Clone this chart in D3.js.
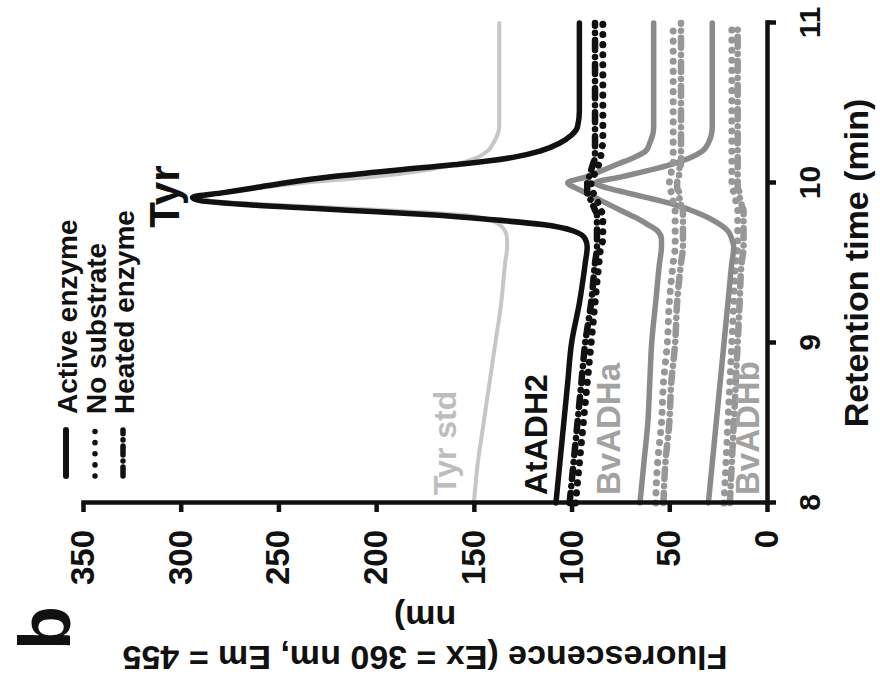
<!DOCTYPE html>
<html>
<head>
<meta charset="utf-8">
<script src="https://cdn.jsdelivr.net/npm/d3@7"></script>
<style>
  html, body { margin: 0; padding: 0; background: #fff; }
  svg { display: block; }
</style>
</head>
<body>
<script>
// Retention time samples (min)
const times = [8.0, 8.25, 8.5, 8.75, 9.0, 9.25, 9.5, 9.6, 9.65, 9.7, 9.74, 9.77, 9.8, 9.83, 9.86, 9.89,
               9.91, 9.94, 9.97, 10.0, 10.04, 10.08, 10.12, 10.16, 10.2, 10.25, 10.3, 10.35, 10.45, 10.6, 10.8, 11.0];

// Fluorescence traces (Ex 360 nm / Em 455 nm)
const tyrStd     = [150, 148, 145, 142, 139, 136, 134, 133, 133, 134, 137, 142, 155, 195, 245, 285,
                    290, 276, 258, 238, 200, 175, 158, 148, 143, 140, 138, 137, 137, 137, 137, 137];
const atActive   = [108, 106, 104, 102, 100, 96, 93, 92, 93, 99, 115, 140, 170, 215, 260, 290,
                    294, 278, 262, 247, 222, 190, 155, 130, 116, 106, 100, 97, 96, 96, 96, 96];
const atNoSub    = [98, 96, 94, 92, 90, 88, 86, 85, 84, 84, 84, 84, 84, 85, 86, 87,
                    88, 89, 90, 90, 89, 87, 86, 85, 85, 84, 84, 84, 84, 84, 84, 84];
const atHeated   = [101, 99, 97, 95, 93, 90, 88, 87, 87, 87, 87, 87, 87, 88, 89, 90,
                    91, 92, 92, 92, 91, 90, 89, 88, 88, 88, 88, 88, 88, 88, 88, 88];
const bvaActive  = [65, 63, 61, 60, 59, 57, 55, 54, 54, 56, 61, 65, 70, 75, 80, 85,
                    88, 93, 98, 102, 92, 84, 76, 68, 62, 60, 58.5, 58, 58, 58, 58, 58];
const bvaNoSub   = [57, 56, 54, 53, 51, 50, 48, 47, 47, 47, 47, 47, 47, 47, 48, 48,
                    49, 49, 50, 50, 49, 49, 48, 48, 48, 48, 48, 48, 48, 48, 48, 48];
const bvaHeated  = [53, 52, 50, 49, 47, 46, 44, 43, 43, 43, 43, 43, 43, 43, 44, 44,
                    45, 45, 46, 46, 45, 45, 44, 44, 44, 44, 44, 44, 44, 44, 44, 44];
const bvbActive  = [30, 28, 26, 24, 22, 20, 18, 17, 18, 20, 24, 28, 33, 39, 46, 55,
                    62, 72, 82, 88, 74, 60, 48, 39, 33, 30, 28.5, 28, 28, 28, 28, 28];
const bvbNoSub   = [22, 21, 20, 19, 18, 17, 16, 15, 15, 15, 15, 15, 15, 15, 16, 16,
                    17, 17, 18, 18, 18, 18, 18, 18, 18, 18, 18, 18, 18, 18, 18, 18];
const bvbHeated  = [19, 18, 17, 16, 15, 14, 13, 12, 12, 12, 12, 12, 12, 12, 13, 13,
                    14, 14, 15, 15, 15, 15, 15, 15, 15, 15, 15, 15, 15, 15, 15, 15];

// Axis ticks and labels
const yTicks = [0, 50, 100, 150, 200, 250, 300, 350];
const xTicks = [8, 9, 10, 11];
const legendLabels = ["Active enzyme", "No substrate", "Heated enzyme"];
const legendStyles = ["solid", "dotted", "dashdot"];
const traceLabels = ["Tyr", "Tyr std", "AtADH2", "BvADHa", "BvADHb"];

const W = 880, H = 682;
const FONT = "'Liberation Sans', Arial, Helvetica, sans-serif";
const BLACK = "#111", GRAY = "#8a8a8a", GRAY_DASH = "#979797", LIGHT = "#c6c6c6";

const styles = {
  solid:   { dash: null,          cap: "round", width: 5.5 },
  dotted:  { dash: "0.1,10",      cap: "round", width: 7 },
  dashdot: { dash: "10,7,0.1,7",  cap: "round", width: 6.5 }
};

const svg = d3.select("body").append("svg")
  .attr("width", W).attr("height", H)
  .style("font-family", FONT);
svg.append("rect").attr("width", W).attr("height", H).attr("fill", "#fff");

// Panel is laid out in a 682 x 880 portrait frame and turned a quarter-turn counter-clockwise
const g = svg.append("g").attr("transform", `translate(0,${H}) rotate(-90)`);

const x = d3.scaleLinear().domain([8, 11]).range([179, 659]);
const y = d3.scaleLinear().domain([0, 350]).range([767, 83]);

const line = d3.line()
  .x((d, i) => x(times[i]))
  .y(d => y(d))
  .curve(d3.curveMonotoneX);

const traces = [
  { values: bvbHeated, color: GRAY_DASH, style: "dashdot" },
  { values: bvbNoSub,  color: GRAY_DASH, style: "dotted" },
  { values: bvbActive, color: GRAY,      style: "solid" },
  { values: bvaHeated, color: GRAY_DASH, style: "dashdot" },
  { values: bvaNoSub,  color: GRAY_DASH, style: "dotted" },
  { values: bvaActive, color: GRAY,      style: "solid" },
  { values: tyrStd,    color: LIGHT,     style: "solid", width: 4 },
  { values: atHeated,  color: BLACK,     style: "dashdot" },
  { values: atNoSub,   color: BLACK,     style: "dotted" },
  { values: atActive,  color: BLACK,     style: "solid" }
];

g.append("g").selectAll("path")
  .data(traces)
  .join("path")
  .attr("d", d => line(d.values))
  .attr("fill", "none")
  .attr("stroke", d => d.color)
  .attr("stroke-width", d => d.width || styles[d.style].width)
  .attr("stroke-linecap", d => styles[d.style].cap)
  .attr("stroke-linejoin", "round")
  .attr("stroke-dasharray", d => styles[d.style].dash);

// Axes
const yAxis = g.append("g")
  .attr("transform", `translate(${x(8)},0)`)
  .call(d3.axisLeft(y).tickValues(yTicks).tickSize(9).tickPadding(18).tickSizeOuter(0));
const xAxis = g.append("g")
  .attr("transform", `translate(0,${y(0)})`)
  .call(d3.axisBottom(x).tickValues(xTicks).tickFormat(d3.format("d")).tickSize(9).tickPadding(23).tickSizeOuter(0));

[yAxis, xAxis].forEach(ax => {
  ax.select(".domain").attr("stroke", BLACK).attr("stroke-width", 4.5).attr("stroke-linecap", "square");
  ax.selectAll(".tick line").attr("stroke", BLACK).attr("stroke-width", 4.5);
  ax.selectAll(".tick text").attr("fill", BLACK).attr("font-family", FONT).attr("font-weight", "bold");
});
yAxis.selectAll(".tick text").attr("font-size", 33);
xAxis.selectAll(".tick text").attr("font-size", 30);

// Axis titles
g.append("text")
  .attr("x", (x(8) + x(11)) / 2).attr("y", 868)
  .attr("text-anchor", "middle")
  .attr("font-size", 34).attr("font-weight", "bold").attr("fill", BLACK)
  .text("Retention time (min)");

const yMid = (y(0) + y(350)) / 2;
g.append("text")
  .attr("transform", `translate(36,${yMid}) rotate(-90)`)
  .attr("text-anchor", "middle")
  .attr("font-size", 34).attr("font-weight", "bold").attr("fill", BLACK)
  .text("Fluorescence (Ex = 360 nm, Em = 455");
g.append("text")
  .attr("transform", `translate(76,${yMid}) rotate(-90)`)
  .attr("text-anchor", "middle")
  .attr("font-size", 34).attr("font-weight", "bold").attr("fill", BLACK)
  .text("nm)");

// Panel letter
g.append("text")
  .attr("x", 32).attr("y", 70)
  .attr("font-size", 72).attr("font-weight", "bold").attr("fill", BLACK)
  .text("b");

// Trace labels
g.append("text")
  .attr("x", x(9.915)).attr("y", y(301))
  .attr("text-anchor", "middle")
  .attr("font-size", 42).attr("font-weight", "bold").attr("fill", BLACK)
  .text(traceLabels[0]);

const sideLabels = [
  { text: traceLabels[1], v: 159, color: "#bdbdbd", size: 32 },
  { text: traceLabels[2], v: 112.5, color: BLACK, size: 32 },
  { text: traceLabels[3], v: 75, color: "#a2a2a2", size: 33 },
  { text: traceLabels[4], v: 4, color: "#a2a2a2", size: 33 }
];
g.append("g").selectAll("text")
  .data(sideLabels)
  .join("text")
  .attr("x", x(8.05)).attr("y", d => y(d.v))
  .attr("font-size", d => d.size).attr("font-weight", "bold")
  .attr("fill", d => d.color)
  .text(d => d.text);

// Legend
const legend = g.append("g");
const rows = [77, 106, 134];
legendLabels.forEach((lab, i) => {
  const st = styles[legendStyles[i]];
  legend.append("line")
    .attr("x1", 206).attr("x2", 252)
    .attr("y1", rows[i] - 11).attr("y2", rows[i] - 11)
    .attr("stroke", BLACK)
    .attr("stroke-width", i === 0 ? 6 : 5.5)
    .attr("stroke-linecap", st.cap)
    .attr("stroke-dasharray", i === 0 ? null : (i === 1 ? "0.1,11" : "9,6,0.1,6"));
  legend.append("text")
    .attr("x", 268).attr("y", rows[i])
    .attr("font-size", 28).attr("font-weight", "bold").attr("fill", BLACK)
    .text(lab);
});
</script>
</body>
</html>
